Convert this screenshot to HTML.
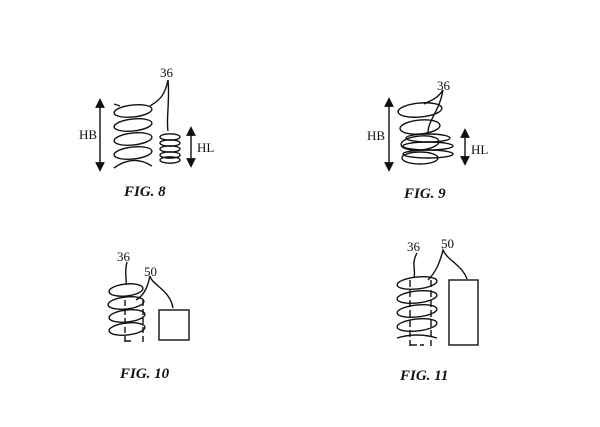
<!DOCTYPE html><html><head><style>body{margin:0;background:#fff}svg{display:block}text{font-family:"Liberation Serif",serif}</style></head><body>
<svg width="600" height="427" viewBox="0 0 600 427" fill="none" stroke="#111" stroke-width="1.4">
<defs><marker id="a" viewBox="0 0 10 10" refX="5" refY="5" markerWidth="7" markerHeight="7" orient="auto-start-reverse"><path d="M0,0L10,5L0,10z" fill="#111" stroke="none"/></marker></defs>
<!-- FIG 8 -->
<g>
<ellipse cx="133" cy="111" rx="19" ry="6" transform="rotate(-6 133 111)"/><ellipse cx="133" cy="125" rx="19" ry="6" transform="rotate(-6 133 125)"/><ellipse cx="133" cy="139" rx="19" ry="6" transform="rotate(-6 133 139)"/><ellipse cx="133" cy="153" rx="19" ry="6" transform="rotate(-6 133 153)"/><path d="M114,168 Q133,154 152,166"/><path d="M114,104 L120,106"/>
<ellipse cx="170" cy="137" rx="10" ry="3.2"/><ellipse cx="170" cy="143" rx="10" ry="3.2"/><ellipse cx="170" cy="149" rx="10" ry="3.2"/><ellipse cx="170" cy="155" rx="10" ry="3.2"/><ellipse cx="170" cy="160" rx="10" ry="3.2"/>
<line x1="100" y1="103" x2="100" y2="167" marker-start="url(#a)" marker-end="url(#a)"/>
<line x1="191" y1="131" x2="191" y2="163" marker-start="url(#a)" marker-end="url(#a)"/>
<path d="M150,106 C160,100 165,95 168,80"/><path d="M168,80 C170,100 166,120 168,131"/>
</g>
<g fill="#111" stroke="none" font-size="13"><text x="160" y="77">36</text><text x="79" y="139">HB</text><text x="197" y="152">HL</text></g>
<text x="124" y="196" fill="#111" stroke="none" font-size="15" font-weight="bold" font-style="italic">FIG. 8</text>
<!-- FIG 9 -->
<g>
<ellipse cx="420" cy="110" rx="22" ry="7" transform="rotate(-5 420 110)"/><ellipse cx="420" cy="127" rx="20" ry="7" transform="rotate(-5 420 127)"/><ellipse cx="420" cy="143" rx="19" ry="7" transform="rotate(-5 420 143)"/><ellipse cx="420" cy="158" rx="18" ry="6"/>
<ellipse cx="428" cy="138" rx="22" ry="4"/><ellipse cx="428" cy="146" rx="25" ry="4"/><ellipse cx="428" cy="154" rx="25" ry="4"/>
<line x1="389" y1="102" x2="389" y2="167" marker-start="url(#a)" marker-end="url(#a)"/>
<line x1="465" y1="133" x2="465" y2="161" marker-start="url(#a)" marker-end="url(#a)"/>
<path d="M424,104 C432,100 438,98 443,90"/><path d="M443,90 C440,110 428,120 428,133"/>
</g>
<g fill="#111" stroke="none" font-size="13"><text x="437" y="90">36</text><text x="367" y="140">HB</text><text x="471" y="154">HL</text></g>
<text x="404" y="198" fill="#111" stroke="none" font-size="15" font-weight="bold" font-style="italic">FIG. 9</text>
<!-- FIG 10 -->
<g>
<ellipse cx="126" cy="290" rx="17" ry="6" transform="rotate(-6 126 290)"/><ellipse cx="126" cy="303" rx="18" ry="6" transform="rotate(-6 126 303)"/><ellipse cx="127" cy="316" rx="18" ry="6" transform="rotate(-6 127 316)"/><ellipse cx="127" cy="329" rx="18" ry="6" transform="rotate(-6 127 329)"/>
<path d="M125,300V342M143,300V342M125,341H131" stroke-dasharray="6,3"/>
<rect x="159" y="310" width="30" height="30"/>
<path d="M126,285 C127,278 124,273 127,262"/><path d="M136,300 C145,295 148,285 150,276 C152,285 170,290 173,308"/>
</g>
<g fill="#111" stroke="none" font-size="13"><text x="117" y="261">36</text><text x="144" y="276">50</text></g>
<text x="120" y="378" fill="#111" stroke="none" font-size="15" font-weight="bold" font-style="italic">FIG. 10</text>
<!-- FIG 11 -->
<g>
<ellipse cx="417" cy="283" rx="20" ry="6" transform="rotate(-6 417 283)"/><ellipse cx="417" cy="297" rx="20" ry="6" transform="rotate(-6 417 297)"/><ellipse cx="417" cy="311" rx="20" ry="6" transform="rotate(-6 417 311)"/><ellipse cx="417" cy="325" rx="20" ry="6" transform="rotate(-6 417 325)"/><path d="M397,338 Q417,332 437,338"/>
<path d="M410,280V346M431,280V346M410,345H424" stroke-dasharray="7,3"/>
<rect x="449" y="280" width="29" height="65"/>
<path d="M414,278 C416,270 411,263 417,253"/><path d="M428,280 C436,272 440,262 443,250 C447,260 462,265 467,279"/>
</g>
<g fill="#111" stroke="none" font-size="13"><text x="407" y="251">36</text><text x="441" y="248">50</text></g>
<text x="400" y="380" fill="#111" stroke="none" font-size="15" font-weight="bold" font-style="italic">FIG. 11</text>
</svg></body></html>
